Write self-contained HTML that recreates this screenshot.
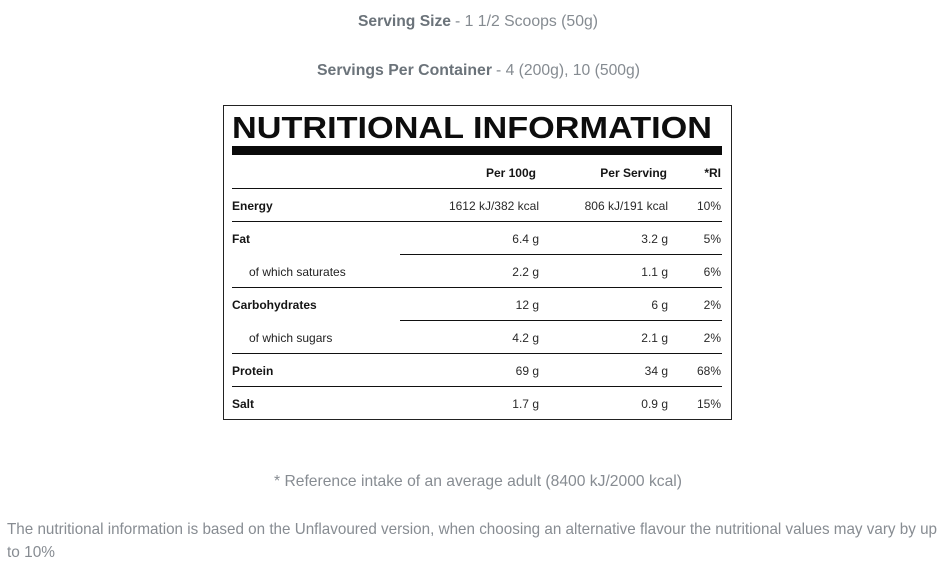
<!DOCTYPE html>
<html>
<head>
<meta charset="utf-8">
<style>
  html, body { margin: 0; padding: 0; background: #ffffff; }
  body { width: 948px; height: 568px; overflow: hidden; }
  svg { display: block; }
  text { font-family: "Liberation Sans", Arial, sans-serif; }
  .top-b { font-size: 16px; font-weight: bold; fill: #6b737a; }
  .top-r { font-size: 16px; fill: #858b91; }
  .note { font-size: 16px; fill: #878c92; }
  .lbl { font-size: 12px; font-weight: bold; fill: #151515; }
  .sub { font-size: 12px; fill: #222; }
  .val { font-size: 12px; fill: #2a2a2a; }
  .hdr { font-size: 12px; font-weight: bold; fill: #151515; }
</style>
</head>
<body>
<svg width="948" height="568" viewBox="0 0 948 568" xmlns="http://www.w3.org/2000/svg">
  <rect x="0" y="0" width="948" height="568" fill="#ffffff"/>

  <!-- Top lines -->
  <text class="top-b" x="358" y="26" textLength="93" lengthAdjust="spacingAndGlyphs">Serving Size</text>
  <text class="top-r" x="455" y="26" textLength="143" lengthAdjust="spacingAndGlyphs">- 1 1/2 Scoops (50g)</text>

  <text class="top-b" x="317" y="75" textLength="175" lengthAdjust="spacingAndGlyphs">Servings Per Container</text>
  <text class="top-r" x="496" y="75" textLength="144" lengthAdjust="spacingAndGlyphs">- 4 (200g), 10 (500g)</text>

  <!-- Table box -->
  <rect x="223.5" y="105.5" width="508" height="314" fill="none" stroke="#222" stroke-width="1" shape-rendering="crispEdges"/>

  <!-- Title -->
  <text x="232" y="138" font-size="31" font-weight="bold" fill="#0d0d0d" textLength="480" lengthAdjust="spacingAndGlyphs">NUTRITIONAL INFORMATION</text>
  <rect x="232" y="146" width="490" height="9" fill="#0a0a0a"/>

  <!-- Header row -->
  <text class="hdr" x="536" y="177" text-anchor="end">Per 100g</text>
  <text class="hdr" x="667" y="177" text-anchor="end">Per Serving</text>
  <text class="hdr" x="721" y="177" text-anchor="end">*RI</text>

  <!-- Lines -->
  <g fill="#111" shape-rendering="crispEdges">
    <rect x="232" y="188" width="490" height="1"/>
    <rect x="232" y="221" width="490" height="1"/>
    <rect x="400" y="254" width="322" height="1"/>
    <rect x="232" y="287" width="490" height="1"/>
    <rect x="400" y="320" width="322" height="1"/>
    <rect x="232" y="353" width="490" height="1"/>
    <rect x="232" y="386" width="490" height="1"/>
  </g>

  <!-- Rows -->
  <text class="lbl" x="232" y="210">Energy</text>
  <text class="val" x="539" y="210" text-anchor="end">1612 kJ/382 kcal</text>
  <text class="val" x="668" y="210" text-anchor="end">806 kJ/191 kcal</text>
  <text class="val" x="721" y="210" text-anchor="end">10%</text>

  <text class="lbl" x="232" y="243">Fat</text>
  <text class="val" x="539" y="243" text-anchor="end">6.4 g</text>
  <text class="val" x="668" y="243" text-anchor="end">3.2 g</text>
  <text class="val" x="721" y="243" text-anchor="end">5%</text>

  <text class="sub" x="249" y="276">of which saturates</text>
  <text class="val" x="539" y="276" text-anchor="end">2.2 g</text>
  <text class="val" x="668" y="276" text-anchor="end">1.1 g</text>
  <text class="val" x="721" y="276" text-anchor="end">6%</text>

  <text class="lbl" x="232" y="309">Carbohydrates</text>
  <text class="val" x="539" y="309" text-anchor="end">12 g</text>
  <text class="val" x="668" y="309" text-anchor="end">6 g</text>
  <text class="val" x="721" y="309" text-anchor="end">2%</text>

  <text class="sub" x="249" y="342">of which sugars</text>
  <text class="val" x="539" y="342" text-anchor="end">4.2 g</text>
  <text class="val" x="668" y="342" text-anchor="end">2.1 g</text>
  <text class="val" x="721" y="342" text-anchor="end">2%</text>

  <text class="lbl" x="232" y="375">Protein</text>
  <text class="val" x="539" y="375" text-anchor="end">69 g</text>
  <text class="val" x="668" y="375" text-anchor="end">34 g</text>
  <text class="val" x="721" y="375" text-anchor="end">68%</text>

  <text class="lbl" x="232" y="408">Salt</text>
  <text class="val" x="539" y="408" text-anchor="end">1.7 g</text>
  <text class="val" x="668" y="408" text-anchor="end">0.9 g</text>
  <text class="val" x="721" y="408" text-anchor="end">15%</text>

  <!-- Footnotes -->
  <text class="note" x="274" y="486" textLength="408" lengthAdjust="spacingAndGlyphs">* Reference intake of an average adult (8400 kJ/2000 kcal)</text>

  <text class="note" x="7" y="534" textLength="930" lengthAdjust="spacingAndGlyphs">The nutritional information is based on the Unflavoured version, when choosing an alternative flavour the nutritional values may vary by up</text>
  <text class="note" x="7" y="557" textLength="48" lengthAdjust="spacingAndGlyphs">to 10%</text>
</svg>
</body>
</html>
